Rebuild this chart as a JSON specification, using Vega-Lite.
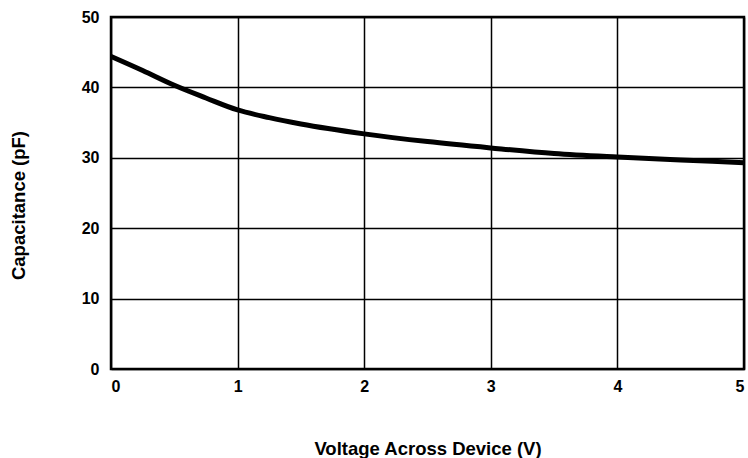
{
  "$schema": "https://vega.github.io/schema/vega-lite/v6.json",
  "autosize": "none",
  "width": 633,
  "height": 352,
  "padding": {"left": 111, "top": 17, "right": 4, "bottom": 89},
  "background": "white",
  "config": {
    "view": {"stroke": "black", "strokeWidth": 2.5},
    "font": "Liberation Sans",
    "axis": {
      "labelFont": "Liberation Sans",
      "labelFontWeight": "bold",
      "labelFontSize": 16,
      "labelColor": "black",
      "titleFont": "Liberation Sans",
      "titleFontWeight": "bold",
      "titleFontSize": 18.5,
      "titleColor": "black",
      "grid": true,
      "gridColor": "black",
      "gridWidth": 1.5,
      "gridOpacity": 1,
      "domain": false,
      "ticks": false
    }
  },
  "data": {
    "values": [
      {"v": 0, "c": 44.4},
      {"v": 0.25, "c": 42.4},
      {"v": 0.5, "c": 40.3},
      {"v": 0.75, "c": 38.5},
      {"v": 1, "c": 36.8},
      {"v": 1.25, "c": 35.7},
      {"v": 1.5, "c": 34.8},
      {"v": 2, "c": 33.4},
      {"v": 2.5, "c": 32.3},
      {"v": 3, "c": 31.4},
      {"v": 3.5, "c": 30.6},
      {"v": 4, "c": 30.1},
      {"v": 4.5, "c": 29.7},
      {"v": 5, "c": 29.3}
    ]
  },
  "mark": {"type": "line", "color": "black", "strokeWidth": 5, "interpolate": "monotone"},
  "encoding": {
    "x": {
      "field": "v",
      "type": "quantitative",
      "scale": {"domain": [0, 5], "nice": false},
      "axis": {"title": "Voltage Across Device (V)", "values": [0, 1, 2, 3, 4, 5], "labelPadding": 9, "titleY": 85, "titleBaseline": "alphabetic", "format": "d"}
    },
    "y": {
      "field": "c",
      "type": "quantitative",
      "scale": {"domain": [0, 50], "nice": false},
      "axis": {"title": "Capacitance (pF)", "values": [0, 10, 20, 30, 40, 50], "labelPadding": 12, "titleX": -87, "titleY": 188, "titleAlign": "center", "titleBaseline": "alphabetic", "titleAngle": -90}
    }
  }
}
